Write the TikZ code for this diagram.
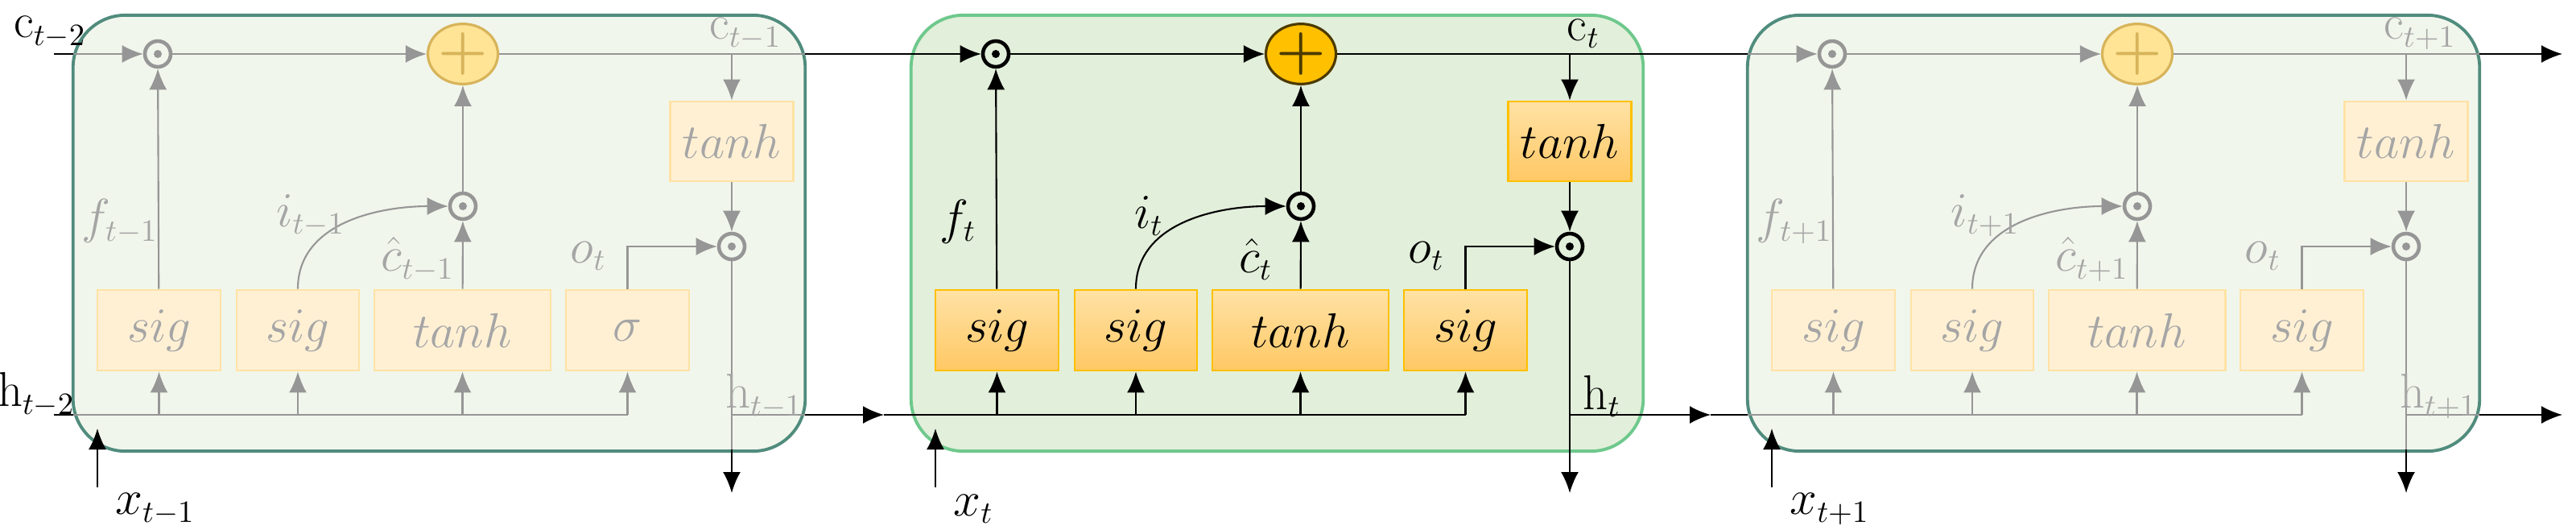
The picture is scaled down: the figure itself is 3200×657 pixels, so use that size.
\documentclass[tikz,border=0pt]{standalone}
\usetikzlibrary{arrows.meta,shapes.geometric}
\definecolor{gline}{RGB}{150,150,150}
\definecolor{gtext}{RGB}{165,165,165}
\definecolor{sfill}{RGB}{241,246,236}
\definecolor{sdraw}{RGB}{80,140,125}
\definecolor{mfill}{RGB}{226,239,218}
\definecolor{mdraw}{RGB}{110,200,140}
\definecolor{sbfill}{RGB}{255,240,212}
\definecolor{sbdraw}{RGB}{255,226,165}
\definecolor{mbtop}{RGB}{255,226,165}
\definecolor{mbbot}{RGB}{255,200,100}
\definecolor{mbdraw}{RGB}{255,192,0}
\definecolor{mplus}{RGB}{255,192,0}
\definecolor{splus}{RGB}{255,228,150}
\definecolor{splusd}{RGB}{215,180,90}
\tikzset{
  every node/.style={font=\fontsize{16}{19}\selectfont},
  arr/.style={-{Latex[length=2.6mm,width=2.2mm]}, line width=0.6pt},
  ln/.style={line width=0.6pt},
  cellbox/.style={rounded corners=0.65cm, line width=1.1pt, minimum width=9.09cm, minimum height=5.41cm, inner sep=0},
  gate/.style={rectangle, line width=0.8pt, minimum height=1cm, inner sep=0},
  odot/.style={circle, line width=1.3pt, minimum size=0.32cm, inner sep=0},
  plusn/.style={ellipse, line width=0.9pt, minimum width=0.46cm, minimum height=0.68cm, inner sep=0, font=\bfseries\fontsize{20}{22}\selectfont},
}
% #1 name #2 L #3 line col #4 box style #5 text col #6 plus fill #7 plus draw #8 sub #9 box4 label
\newcommand\lstmcell[9]{%
\begin{scope}[shift={(#2,0)}]
\node[gate,#4,minimum width=1.53cm] (#1g1) at (106.5,410) {$sig$};
\node[gate,#4,minimum width=1.52cm] (#1g2) at (279,410) {$sig$};
\node[gate,#4,minimum width=2.19cm] (#1g3) at (483.5,410) {$tanh$};
\node[gate,#4,minimum width=1.53cm] (#1g4) at (688.5,410) {#9};
\node[gate,#4,minimum width=1.53cm,minimum height=0.99cm] (#1tt) at (818,175.5) {$tanh$};
\node[odot,draw=#3] (#1f) at (105,67) {};
\fill[#3] (#1f) circle (0.05cm);
\node[plusn,draw=#7,fill=#6,text=#7] (#1p) at (484,67) {+};
\node[odot,draw=#3] (#1m) at (484,256) {};
\fill[#3] (#1m) circle (0.05cm);
\node[odot,draw=#3] (#1o) at (818,306) {};
\fill[#3] (#1o) circle (0.05cm);
\coordinate (#1cl) at (0,67); \coordinate (#1cr) at (909,67);
\coordinate (#1ct) at (818,67);
\coordinate (#1hl) at (0,515); \coordinate (#1hr) at (909,515);
\coordinate (#1hj) at (818,515); \coordinate (#1hd) at (818,612);
\coordinate (#1hx) at (818,558);
\coordinate (#1b1) at (106.5,515); \coordinate (#1b2) at (279,515);
\coordinate (#1b3) at (483.5,515); \coordinate (#1b4) at (688.5,515);
\draw[arr,#3] (#1cl) -- (#1f);
\draw[arr,#3] (#1f) -- (#1p);
\draw[ln,#3] (#1p) -- (#1cr);
\draw[arr,#3] (#1ct) -- (#1tt);
\draw[arr,#3] (#1tt) -- (#1o);
\draw[arr,#3] (#1g1) -- (#1f);
\draw[arr,#3] (#1m) -- (#1p);
\draw[arr,#3] (#1g3) -- (#1m);
\draw[arr,#3] (#1g2.north) to[out=90,in=180] (#1m);
\draw[arr,#3] (#1g4.north) |- (#1o);
\draw[ln,#3] (#1hl) -- (#1b4);
\foreach \k in {1,2,3,4}{\draw[arr,#3] (#1b\k) -- (#1g\k);}
\draw[ln,#3] (#1o) -- (#1hx);
\draw[arr,black] (#1hx) -- (#1hd);
\draw[ln,#3] (#1hj) -- (#1hr);
\node[text=#5] (#1lf) at (58,275) {$f_{#8}$};
\node[text=#5] (#1li) at (295,268) {$i_{#8}$};
\node[text=#5] (#1lc) at (428,322) {$\hat{c}_{#8}$};
\node[text=#5] (#1lo) at (640,318) {$o_t$};
\node[text=#5] (#1lct) at (835,42) {$\mathrm{c}_{#8}$};
\node[text=#5] (#1lh) at (858,492) {$\mathrm{h}_{#8}$};
\coordinate (#1xs) at (30,605); \coordinate (#1xe) at (30,532);
\draw[arr,black] (#1xs) -- (#1xe);
\node[anchor=west] (#1lx) at (40,632) {$x_{#8}$};
\end{scope}}
\begin{document}
\begin{tikzpicture}[x=0.01cm,y=-0.01cm]
\useasboundingbox (0,0) rectangle (3200,657);
\fill[white] (0,0) rectangle (3200,657);
\node[cellbox,fill=sfill,draw=sdraw] (A) at (545.5,289.5) {};
\node[cellbox,fill=mfill,draw=mdraw] (B) at (1586.5,289.5) {};
\node[cellbox,fill=sfill,draw=sdraw] (C) at (2625.5,289.5) {};
\lstmcell{a}{91}{gline}{fill=sbfill,draw=sbdraw,text=gtext}{gtext}{splus}{splusd}{t-1}{$\sigma$}
\lstmcell{b}{1132}{black}{top color=mbtop,bottom color=mbbot,draw=mbdraw,text=black}{black}{mplus}{black!70!mplus}{t}{$sig$}
\lstmcell{c}{2171}{gline}{fill=sbfill,draw=sbdraw,text=gtext}{gtext}{splus}{splusd}{t+1}{$sig$}
\coordinate (c0) at (67,67); \coordinate (h0) at (67,515);
\coordinate (cend) at (3183,67); \coordinate (hend) at (3183,515);
\coordinate (ha) at (1098,515); \coordinate (hb) at (2125,515);
\draw[ln] (c0) -- (acl);
\draw[ln] (h0) -- (ahl);
\draw[ln] (acr) -- (bcl);
\draw[ln] (bcr) -- (ccl);
\draw[arr] (ccr) -- (cend);
\draw[arr] (ahr) -- (ha); \draw[ln] (ha) -- (bhl);
\draw[arr] (bhr) -- (hb); \draw[ln] (hb) -- (chl);
\draw[arr] (chr) -- (hend);
\node (lc0) at (62,40) {$\mathrm{c}_{t-2}$};
\node (lh0) at (45,490) {$\mathrm{h}_{t-2}$};
\end{tikzpicture}
\end{document}
